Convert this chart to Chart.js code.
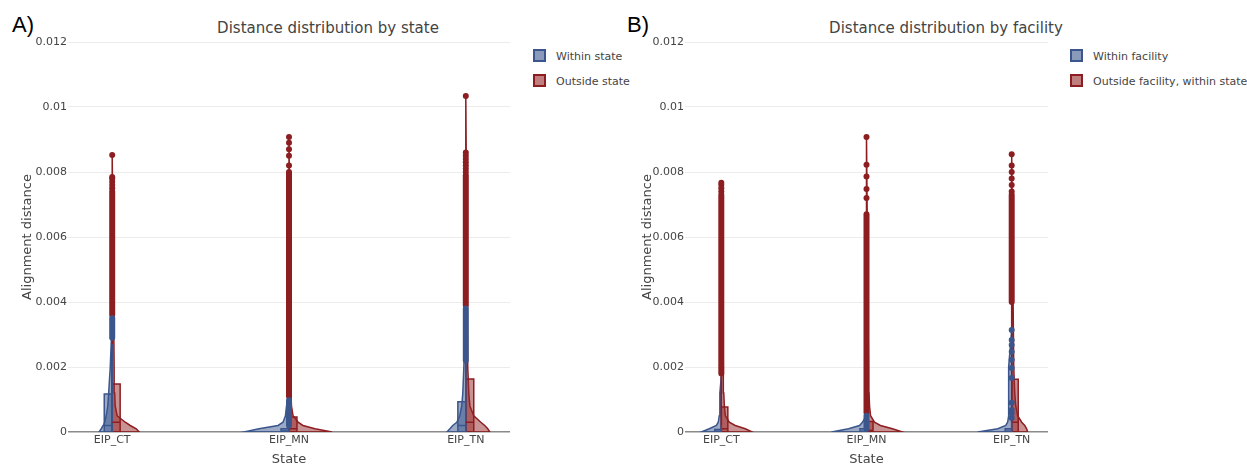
<!DOCTYPE html>
<html>
<head>
<meta charset="utf-8">
<script src="https://cdn.jsdelivr.net/npm/chart.js@4.4.0/dist/chart.umd.min.js"></script>
<style>
body { margin:0; background:#fff; font-family:'DejaVu Sans', sans-serif; color:#444; }
#wrap { position:relative; width:1247px; height:467px; overflow:hidden; }
canvas { position:absolute; top:0; }
.tag { position:absolute; top:12px; font-family:'Liberation Sans', Arial, sans-serif; font-size:22px; line-height:26px; color:#000; }
.ttl { position:absolute; top:19px; font-size:15px; line-height:18px; white-space:nowrap; transform:translateX(-50%); }
.leg { position:absolute; font-size:11px; line-height:14px; white-space:nowrap; }
.sw { display:inline-block; width:9px; height:9px; border:2px solid; vertical-align:-2px; margin-right:10px; }
</style>
</head>
<body>
<div id="wrap">
  <div class="tag" style="left:12px">A)</div>
  <div class="ttl" style="left:328px">Distance distribution by state</div>
  <div class="leg" style="left:533px; top:49px"><span class="sw" style="background:rgba(58,86,140,0.6); border-color:#3a568c"></span>Within state</div>
  <div class="leg" style="left:533px; top:74px"><span class="sw" style="background:rgba(150,40,40,0.6); border-color:#8c1e22"></span>Outside state</div>
  <canvas id="chartA" width="520" height="467" style="left:0"></canvas>

  <div class="tag" style="left:627px">B)</div>
  <div class="ttl" style="left:946px">Distance distribution by facility</div>
  <div class="leg" style="left:1070px; top:49px"><span class="sw" style="background:rgba(58,86,140,0.6); border-color:#3a568c"></span>Within facility</div>
  <div class="leg" style="left:1070px; top:74px"><span class="sw" style="background:rgba(150,40,40,0.6); border-color:#8c1e22"></span>Outside facility, within state</div>
  <canvas id="chartB" width="440" height="467" style="left:620px"></canvas>
</div>
<script>
// categories / axis
const categories = ['EIP_CT', 'EIP_MN', 'EIP_TN'];
const yTicks = [0, 0.002, 0.004, 0.006, 0.008, 0.01, 0.012];

// distance levels where the violin half-widths were read
const violinLevels = [0, 0.0001, 0.0002, 0.0003, 0.0005, 0.0008, 0.0012, 0.002];

// A) by state - within state (half-widths in category units)
const stateWithinWidth = [
    [0.074, 0.062, 0.051, 0.042, 0.034, 0.025, 0.020, 0.011],
    [0.255, 0.170, 0.062, 0.034, 0.020, 0.014, 0.011, 0.008],
    [0.107, 0.090, 0.074, 0.051, 0.034, 0.023, 0.017, 0.011]
];
const stateWithinQ1 = [0, 0, 0];
const stateWithinMedian = [0.0002, 0.00003, 0.0002];
const stateWithinQ3 = [0.00117, 0.0001, 0.00093];
const stateWithinFence = [0.0027, 0.0002, 0.0022];
const stateWithinBand = [[0.0029, 0.0035], [0.0002, 0.00098], [0.0022, 0.0038]];
const stateWithinOutliers = [[], [], []];
const stateWithinMax = [0.0035, 0.001, 0.0038];

// A) by state - outside state
const stateOutsideWidth = [
    [0.153, 0.136, 0.102, 0.074, 0.028, 0.017, 0.014, 0.011],
    [0.243, 0.147, 0.079, 0.051, 0.023, 0.014, 0.011, 0.011],
    [0.136, 0.124, 0.107, 0.085, 0.045, 0.023, 0.017, 0.011]
];
const stateOutsideQ1 = [0, 0, 0];
const stateOutsideMedian = [0.0003, 0.0001, 0.0003];
const stateOutsideQ3 = [0.00148, 0.00046, 0.00163];
const stateOutsideFence = [0.0036, 0.0011, 0.0039];
const stateOutsideBand = [[0.0036, 0.0074], [0.0011, 0.0080], [0.0039, 0.0079]];
const stateOutsideOutliers = [
    [0.0075, 0.0076, 0.0077, 0.0078, 0.00785, 0.00852],
    [0.0082, 0.0085, 0.0087, 0.0089, 0.00908],
    [0.0080, 0.0081, 0.0082, 0.0083, 0.0084, 0.0085, 0.0086, 0.01034]
];
const stateOutsideMax = [0.00852, 0.00908, 0.01034];

// B) by facility - within facility
const facWithinWidth = [
    [0.138, 0.083, 0.034, 0.021, 0.014, 0.010, 0.010, 0.010],
    [0.241, 0.124, 0.048, 0.028, 0.021, 0.014, 0.014, 0.010],
    [0.234, 0.096, 0.041, 0.028, 0.021, 0.021, 0.021, 0.021]
];
const facWithinQ1 = [0, 0, 0];
const facWithinMedian = [0.00002, 0.00002, 0.00002];
const facWithinQ3 = [0.00008, 0.0001, 0.0001];
const facWithinFence = [0.0002, 0.0002, 0.0003];
const facWithinBand = [[], [0.0001, 0.0005], []];
const facWithinOutliers = [
    [],
    [],
    [0.00043, 0.00058, 0.00068, 0.0009, 0.00166, 0.00197, 0.00222, 0.00247, 0.00268, 0.00283, 0.00314]
];
const facWithinMax = [0.0017, 0.0005, 0.00314];

// B) by facility - outside facility, within state
const facOutsideWidth = [
    [0.213, 0.165, 0.096, 0.055, 0.028, 0.021, 0.017, 0.014],
    [0.248, 0.179, 0.096, 0.055, 0.028, 0.021, 0.017, 0.014],
    [0.110, 0.103, 0.090, 0.069, 0.041, 0.028, 0.021, 0.014]
];
const facOutsideQ1 = [0, 0, 0];
const facOutsideMedian = [0.0001, 0.00005, 0.0003];
const facOutsideQ3 = [0.00077, 0.00032, 0.00162];
const facOutsideFence = [0.0018, 0.0006, 0.0040];
const facOutsideBand = [[0.0018, 0.0073], [0.0006, 0.0067], [0.0040, 0.0073]];
const facOutsideOutliers = [
    [0.0074, 0.0075, 0.0076, 0.00767],
    [0.0072, 0.00748, 0.00786, 0.00822, 0.00908],
    [0.0074, 0.0076, 0.0078, 0.0080, 0.0082, 0.00855]
];
const facOutsideMax = [0.00767, 0.00908, 0.00855];

const blueLine = '#3a568c';
const blueFill = 'rgba(58,86,140,0.5)';
const redLine = '#8c1e22';
const redFill = 'rgba(150,40,40,0.5)';
const boxWidth = 0.045;
const FONT = "'DejaVu Sans', sans-serif";

function line(data, color, width, order, extra) {
    return Object.assign({
        data: data, showLine: true, borderColor: color, borderWidth: width,
        pointRadius: 0, tension: 0, fill: false, order: order
    }, extra || {});
}

// datasets for one side of the split violins
function seriesDatasets(s, side, lineCol, fillCol) {
    const out = [];
    categories.forEach(function (cat, c) {
        // violin outline
        const pts = [{x: c, y: 0}];
        violinLevels.forEach(function (lv, i) {
            if (lv < s.max[c]) pts.push({x: c + side * s.width[c][i], y: lv});
        });
        pts.push({x: c, y: s.max[c]});
        pts.push({x: c, y: 0});
        out.push(line(pts, lineCol, 1.5, 6, {fill: 'shape', backgroundColor: fillCol}));

        // box
        const bx = c + side * boxWidth;
        out.push(line([
            {x: c, y: s.q1[c]}, {x: bx, y: s.q1[c]}, {x: bx, y: s.q3[c]},
            {x: c, y: s.q3[c]}, {x: c, y: s.q1[c]}
        ], lineCol, 1.5, 5, {fill: 'shape', backgroundColor: fillCol}));
        out.push(line([{x: c, y: s.median[c]}, {x: bx, y: s.median[c]}], lineCol, 1.5, 4));

        // whisker
        out.push(line([{x: c, y: s.q3[c]}, {x: c, y: s.fence[c]}], lineCol, 1.5, 4));

        // dense run of outlier points
        if (s.band[c].length) {
            out.push(line([{x: c, y: s.band[c][0]}, {x: c, y: s.band[c][1]}], lineCol, 6, 3,
                {borderCapStyle: 'round'}));
        }
        // single outliers
        if (s.outliers[c].length) {
            out.push({
                data: s.outliers[c].map(function (v) { return {x: c, y: v}; }),
                showLine: false, pointRadius: 3, pointBackgroundColor: lineCol,
                pointBorderWidth: 0, order: 2
            });
        }
    });
    return out;
}

function panelOptions(yWidth, rightPad) {
    return {
        responsive: false,
        animation: false,
        layout: {padding: {top: 42, right: rightPad, bottom: 0, left: 0}},
        plugins: {legend: {display: false}, tooltip: {enabled: false}},
        scales: {
            x: {
                type: 'linear', min: -0.25, max: 2.25,
                afterBuildTicks: function (s) { s.ticks = categories.map(function (c, i) { return {value: i}; }); },
                afterFit: function (s) { s.height = 35; },
                grid: {display: false, drawTicks: false}, border: {display: false},
                ticks: {
                    callback: function (v) { return categories[v]; },
                    font: {family: FONT, size: 11}, color: '#444', padding: 2,
                    maxRotation: 0, autoSkip: false
                },
                title: {display: true, text: 'State', font: {family: FONT, size: 13}, color: '#444',
                    padding: {top: 0, bottom: 0}}
            },
            y: {
                min: 0, max: 0.012,
                afterBuildTicks: function (s) { s.ticks = yTicks.map(function (v) { return {value: v}; }); },
                afterFit: function (s) { s.width = yWidth; },
                border: {display: false},
                grid: {
                    drawTicks: false,
                    color: function (ctx) { return ctx.tick && ctx.tick.value === 0 ? '#8a8a8a' : '#ececec'; },
                    lineWidth: function (ctx) { return ctx.tick && ctx.tick.value === 0 ? 1.5 : 1; }
                },
                ticks: {
                    callback: function (v) { return v === 0 ? '0' : String(parseFloat(v.toFixed(4))); },
                    font: {family: FONT, size: 11}, color: '#444', padding: 1
                },
                title: {display: true, text: 'Alignment distance', font: {family: FONT, size: 13},
                    color: '#444', padding: {top: 20, bottom: 0}}
            }
        }
    };
}

function pack(width, q1, median, q3, fence, band, outliers, max) {
    return {width: width, q1: q1, median: median, q3: q3, fence: fence, band: band, outliers: outliers, max: max};
}

const stateWithin = pack(stateWithinWidth, stateWithinQ1, stateWithinMedian, stateWithinQ3,
    stateWithinFence, stateWithinBand, stateWithinOutliers, stateWithinMax);
const stateOutside = pack(stateOutsideWidth, stateOutsideQ1, stateOutsideMedian, stateOutsideQ3,
    stateOutsideFence, stateOutsideBand, stateOutsideOutliers, stateOutsideMax);
const facWithin = pack(facWithinWidth, facWithinQ1, facWithinMedian, facWithinQ3,
    facWithinFence, facWithinBand, facWithinOutliers, facWithinMax);
const facOutside = pack(facOutsideWidth, facOutsideQ1, facOutsideMedian, facOutsideQ3,
    facOutsideFence, facOutsideBand, facOutsideOutliers, facOutsideMax);

new Chart(document.getElementById('chartA'), {
    type: 'scatter',
    data: {
        datasets: seriesDatasets(stateWithin, -1, blueLine, blueFill)
            .concat(seriesDatasets(stateOutside, 1, redLine, redFill))
    },
    options: panelOptions(68, 10)
});

new Chart(document.getElementById('chartB'), {
    type: 'scatter',
    data: {
        datasets: seriesDatasets(facWithin, -1, blueLine, blueFill)
            .concat(seriesDatasets(facOutside, 1, redLine, redFill))
    },
    options: panelOptions(65, 12)
});
</script>
</body>
</html>
